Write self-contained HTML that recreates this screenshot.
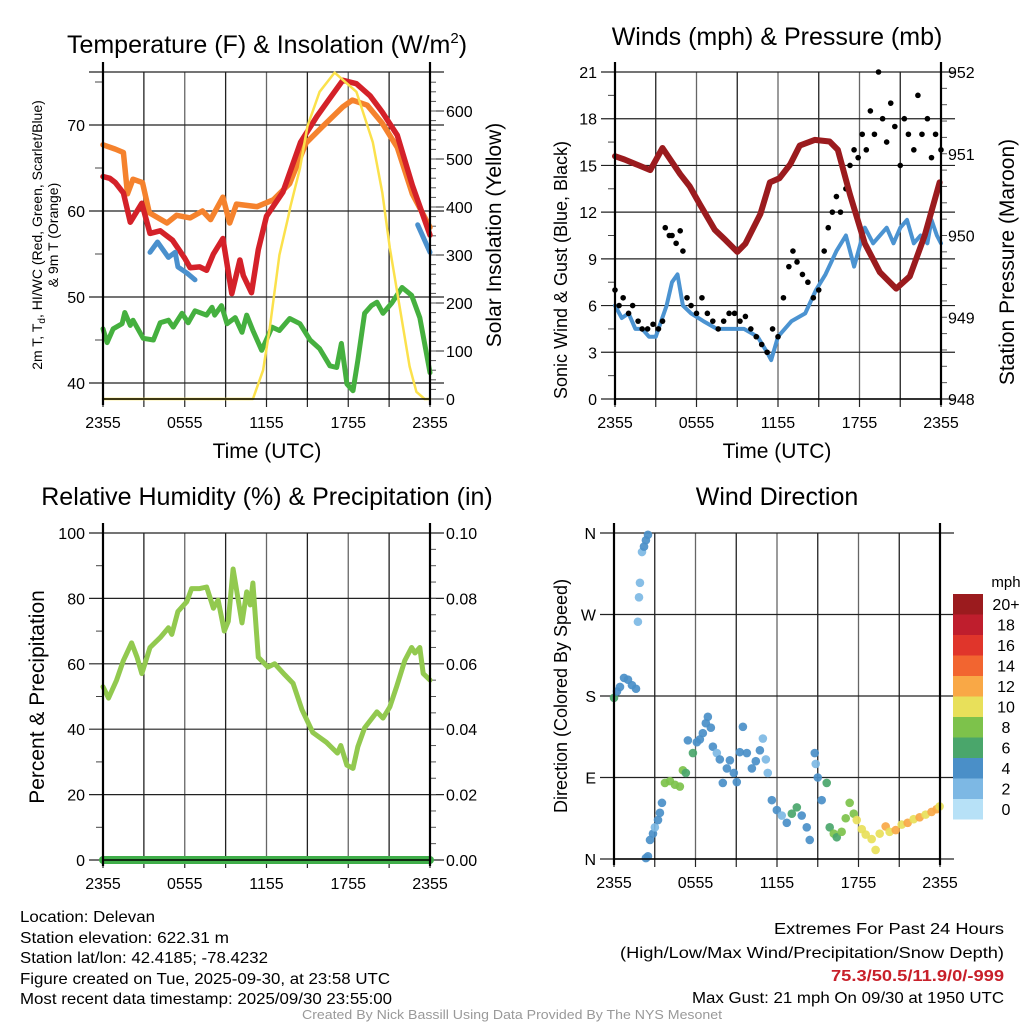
<!DOCTYPE html>
<html><head><meta charset="utf-8"><style>
html,body{margin:0;padding:0;background:#fff}
svg{display:block;font-family:"Liberation Sans",sans-serif}
</style></head><body>
<svg id="fig" xmlns="http://www.w3.org/2000/svg" width="1024" height="1024" viewBox="0 0 1024 1024">
<rect width="1024" height="1024" fill="#fff"/>
<g id="p1"></g>
<g id="p2"></g>
<g id="p3"></g>
<g id="p4"></g>
<text x="267" y="53" font-size="25" text-anchor="middle">Temperature (F) &amp; Insolation (W/m<tspan font-size="15" dy="-10">2</tspan><tspan dy="10">)</tspan></text>
<text x="777" y="45" font-size="25" text-anchor="middle">Winds (mph) &amp; Pressure (mb)</text>
<text x="267" y="505" font-size="25" text-anchor="middle">Relative Humidity (%) &amp; Precipitation (in)</text>
<text x="777" y="505" font-size="25" text-anchor="middle">Wind Direction</text>
<text x="267" y="458" font-size="21" text-anchor="middle">Time (UTC)</text>
<text x="777" y="458" font-size="21" text-anchor="middle">Time (UTC)</text>
<text transform="translate(42,235) rotate(-90)" font-size="14" text-anchor="middle">2m T, T<tspan font-size="10" dy="3">d</tspan><tspan dy="-3">, HI/WC (Red, Green, Scarlet/Blue)</tspan></text>
<text transform="translate(58,235) rotate(-90)" font-size="14" text-anchor="middle">&amp; 9m T (Orange)</text>
<text transform="translate(501,235) rotate(-90)" font-size="21" text-anchor="middle">Solar Insolation (Yellow)</text>
<text transform="translate(567,270) rotate(-90)" font-size="18" text-anchor="middle">Sonic Wind &amp; Gust (Blue, Black)</text>
<text transform="translate(1014,262) rotate(-90)" font-size="21" text-anchor="middle">Station Pressure (Maroon)</text>
<text transform="translate(44,697) rotate(-90)" font-size="21" text-anchor="middle">Percent &amp; Precipitation</text>
<text transform="translate(567,696) rotate(-90)" font-size="18" text-anchor="middle">Direction (Colored By Speed)</text>
<g font-size="16">
<text x="20" y="922" textLength="135" lengthAdjust="spacingAndGlyphs">Location: Delevan</text>
<text x="20" y="943" textLength="209" lengthAdjust="spacingAndGlyphs">Station elevation: 622.31 m</text>
<text x="20" y="963" textLength="248" lengthAdjust="spacingAndGlyphs">Station lat/lon: 42.4185; -78.4232</text>
<text x="20" y="984" textLength="370" lengthAdjust="spacingAndGlyphs">Figure created on Tue, 2025-09-30, at 23:58 UTC</text>
<text x="20" y="1004" textLength="372" lengthAdjust="spacingAndGlyphs">Most recent data timestamp: 2025/09/30 23:55:00</text>
</g>
<g font-size="16" text-anchor="end">
<text x="1004" y="934" textLength="230" lengthAdjust="spacingAndGlyphs">Extremes For Past 24 Hours</text>
<text x="1004" y="958" textLength="384" lengthAdjust="spacingAndGlyphs">(High/Low/Max Wind/Precipitation/Snow Depth)</text>
<text x="1004" y="981" fill="#c8202a" font-weight="bold" textLength="173" lengthAdjust="spacingAndGlyphs">75.3/50.5/11.9/0/-999</text>
<text x="1004" y="1003" textLength="312" lengthAdjust="spacingAndGlyphs">Max Gust: 21 mph On 09/30 at 1950 UTC</text>
</g>
<text x="512" y="1019" font-size="13" fill="#999" text-anchor="middle" textLength="420" lengthAdjust="spacingAndGlyphs">Created By Nick Bassill Using Data Provided By The NYS Mesonet</text>
</svg>
<script>
// ---- Temperature panel data ----
const redHours=[0,0.5,0.9,1.5,2,2.85,3.45,4.2,5.1,6,6.4,7.1,7.6,8.1,8.8,9.45,10.05,10.3,10.9,11.4,12,13.2,14.5,15.7,16.6,17.6,18.6,19.6,20.5,21.6,22.7,24];
const redTemp=[64,63.8,63.3,62.1,58.7,60.9,57.4,57.7,56.6,54.5,53.4,53.5,53.1,55,56.8,50.4,54.3,52.5,50.5,55.5,59.4,62.2,68,71,73,75.2,74.8,73.4,71.5,68.8,63,57.2];
const orangeHours=[0,0.9,1.5,1.8,2.2,2.9,3.4,4.7,5.4,6.4,7.3,7.9,8.8,9.3,9.8,11.3,12.5,13.7,14.9,16.1,17.6,18.3,19.4,20.5,21.6,22.7,24];
const orangeTemp=[67.7,67.2,66.8,62,63.7,63.3,59.8,58.6,59.5,59.2,60,59,61.6,58.6,60.8,60.5,61.3,63.2,67.9,69.8,72.1,72.9,72.3,70.2,67.4,62,58.1];
const greenHours=[0,0.3,0.75,1.4,1.6,2,2.2,2.95,3.7,4.2,4.8,5.15,5.8,6.25,6.75,7.6,8,8.2,8.7,9.1,9.7,10.2,10.55,11,11.65,12.4,12.95,13.7,14.45,15.2,15.9,16.65,17.15,17.5,17.9,18.35,18.7,19.2,19.7,20.1,20.55,21.2,21.95,22.65,23.25,23.6,24];
const greenTd=[46.3,44.7,46.3,46.9,48.2,46.7,47.3,45.2,45,47,47.3,46.5,48.1,47,48.4,47.9,48.8,47.9,49,46.9,47.6,45.9,47.9,46.1,43.8,46.5,46.1,47.5,46.9,45,44,42,41.8,44.6,39.9,39.1,42.6,48.1,49,49.4,48.1,49.3,51.1,50.2,47.6,44.6,41.2];
const blueHours1=[3.45,4,4.8,5.3,5.5,6.15,6.75];
const blueHIWC1=[55.2,56.4,54.6,55.2,53.5,52.8,52];
const blueHours2=[23.1,24];
const blueHIWC2=[58.4,55.2];
const solarHours=[0,11,11.75,12.25,12.95,13.6,13.75,14.45,15,15.9,17,18.6,19.8,20.5,21.05,21.8,22.5,23,23.6,24];
const solarWm2=[0,0,60,150,300,380,400,480,568,640,680,640,535,430,315,188,68,15,0,0];
const tempTicks=[40,50,60,70];
const solarTicks=[0,100,200,300,400,500,600];
const timeLabels=["2355","0555","1155","1755","2355"];
// ---- Winds panel data ----
const windHours=[0,0.5,1,1.5,2,2.5,3,3.4,3.8,4.2,4.6,5,5.6,6.5,7.5,8.5,9.5,10.5,11.2,11.5,12,13,14,14.8,15.5,16.3,17,17.6,18.4,19,19.5,20,20.5,21,21.5,22,22.5,23,23.3,23.7,24];
const windMph=[6,5.2,5.5,4.5,4.5,4,4,5,6,7.5,8,6,5.5,5,4.5,4.5,4.5,4,3,2.5,4,5,5.5,7,8,9.5,10.5,8.5,11,10,10.5,11,10,11,11.5,10,10.5,10,11.5,10.5,10];
const gustHours=[0,0.3,0.6,1,1.3,1.7,2,2.4,2.8,3.2,3.5,3.7,4,4.2,4.5,4.8,5,5.3,5.6,6,6.4,6.8,7.2,7.6,8,8.4,8.8,9.2,9.6,10,10.4,10.8,11.2,11.6,12,12.4,12.8,13.1,13.4,13.8,14.2,14.6,15,15.4,15.7,16,16.3,16.6,17,17.3,17.6,17.9,18.2,18.5,18.8,19.1,19.4,19.7,20,20.3,20.6,21,21.3,21.6,22,22.3,22.6,23,23.3,23.6,24];
const gustMph=[7,6,6.5,5.5,6,5,4.5,4.5,4.8,4.5,5,11,10.5,10.5,10,10.8,9.5,6.5,6,5.5,6.5,5.5,5,4.5,5,5.5,5.5,5,5.3,4.5,4,3.5,3,4.5,4,6.5,8.5,9.5,8.8,8,7.5,6.5,7,9.5,11,12,13,12,13.5,15,16,15.5,17,16,18.5,17,21,18,16.5,19,17.5,15,18,17,16,19.5,17,18,15.5,17,16];
const presHours=[0,0.7,2.6,3.5,4.8,5.5,6.25,7.35,8.1,9,9.6,10.7,11.4,12.1,12.9,13.6,14.7,15.8,16.4,17.3,18.4,19.5,20.7,21.7,22.8,23.9];
const presMb=[950.97,950.93,950.8,951.07,950.75,950.6,950.38,950.07,949.95,949.8,949.9,950.26,950.65,950.7,950.87,951.1,951.17,951.15,951.05,950.5,949.9,949.55,949.35,949.5,950.0,950.65];
const windTicks=[0,3,6,9,12,15,18,21];
const presTicks=[948,949,950,951,952];
// ---- Humidity panel data ----
const rhHours=[0,0.4,1,1.5,2.1,2.5,2.85,3.45,4.2,4.8,5.05,5.5,6.15,6.5,7.1,7.6,8.1,8.45,8.9,9.2,9.55,10.2,10.55,10.8,11,11.4,12.1,12.6,13.35,13.95,14.6,15.4,16.4,17.2,17.45,17.9,18.35,18.7,19.2,20.1,20.55,21.05,21.55,22.15,22.65,22.9,23.25,23.5,24];
const rhPct=[53,49.5,55,61,66.4,62,57,65,68,71,69,76,79,83,83,83.5,77,79.5,70,73,89,72.5,82,78,84.7,62,59,60,56.6,54,46,39,36,32.7,35,29,28,34.6,40.4,45.3,43.4,46.8,53,61,65,63.3,65,57,55];
const precipHours=[0,24];
const precipIn=[0,0];
const rhTicks=[0,20,40,60,80,100];
const precipTicks=["0.00","0.02","0.04","0.06","0.08","0.10"];
// ---- Wind direction panel data ----
const dirHours=[0,0.22,0.44,0.74,1.03,1.32,1.62,1.76,1.84,1.91,2.06,2.21,2.35,2.5,2.35,2.5,2.65,2.87,3.01,3.24,3.38,3.53,3.75,4.12,4.49,4.85,5.07,5.29,5.44,5.81,6.1,6.32,6.54,6.76,6.91,7.13,7.28,7.57,7.79,8.01,8.31,8.53,8.82,9.04,9.26,9.49,9.78,10.15,10.44,10.74,10.96,11.18,11.32,11.62,11.99,12.35,12.72,13.09,13.46,13.82,14.19,14.41,14.78,14.85,15,15.29,15.66,15.88,16.18,16.4,16.76,17.06,17.35,17.65,17.87,18.24,18.53,18.97,19.26,19.56,20,20.29,20.74,21.18,21.62,22.06,22.5,22.94,23.38,23.75,23.97];
const dirDeg=[178,185,190,200,198,192,188,262,289,305,339,345,352,358,1,3,21,28,35,43,51,62,84,86,82,80,98,95,131,117,129,132,139,150,157,145,124,117,110,84,100,109,95,85,118,146,117,100,108,120,133,110,95,65,54,48,40,50,57,48,35,21,117,105,90,65,84,35,28,24,30,45,62,50,43,33,27,22,10,28,36,30,32,38,40,44,46,49,52,55,58];
const dirSpeed=[6,4,4,4,4,4,4,2,2,2,2,4,4,4,4,4,4,4,2,4,4,4,8,8,8,8,8,6,4,6,4,4,4,4,4,4,4,2,4,4,4,4,4,4,4,4,4,4,4,4,2,2,2,4,4,2,4,6,6,4,4,4,4,2,4,4,6,6,8,6,8,8,8,8,10,10,10,10,10,10,12,10,12,10,12,10,12,10,12,12,10];
const dirTicks=["N","E","S","W","N"];
const barLabels=["20+","18","16","14","12","10","8","6","4","2","0"];
const barSpeeds=[20,18,16,14,12,10,8,6,4,2,0];

const NS='http://www.w3.org/2000/svg';
function mk(parent,tag,attrs){const e=document.createElementNS(NS,tag);for(const k in attrs)e.setAttribute(k,attrs[k]);parent.appendChild(e);return e;}
function speedColor(s){
  const c=['#b7e1f7','#7db8e4','#4a8fc8','#4aa66b','#7dc24b','#e8e05a','#f9a846','#f26530','#e0352b','#bf1e2d','#9b1b1e'];
  return c[Math.min(10,Math.floor(s/2))];
}
function linePath(g,hs,vs,xf,yf,color,w,name){
  let d='';for(let i=0;i<hs.length;i++)d+=(i?'L':'M')+xf(hs[i]).toFixed(1)+','+yf(vs[i]).toFixed(1);
  const p=mk(g,'path',{d:d,fill:'none',stroke:color,'stroke-width':w,'stroke-linejoin':'round','stroke-linecap':'round'});
  
  
  return p;
}
function frame(g,L,R,T,B,hLines){
  for(let h=3;h<24;h+=3){const x=L+(R-L)*h/24;
    const ln=mk(g,'line',{x1:x,x2:x,y1:T,y2:B,stroke:(h%6==0?'#666':'#222'),'stroke-width':1.3});
    
    }
  hLines.forEach(y=>{const ln=mk(g,'line',{x1:L-14,x2:R+14,y1:y,y2:y,stroke:'#222','stroke-width':1.2});
    
    });
  for(let h=0;h<=24;h+=3){const x=L+(R-L)*h/24;mk(g,'line',{x1:x,x2:x,y1:B,y2:B+8,stroke:'#222','stroke-width':1.2});}
  for(let i=0;i<5;i++){const x=L+(R-L)*i/4;
    const t=mk(g,'text',{x:x,y:B+29,'font-size':16,'text-anchor':'middle'});t.textContent=timeLabels[i];
    
    }
}
function axes(g,L,R,T,B){
  mk(g,'line',{x1:L,x2:L,y1:T-10,y2:B+6,stroke:'#000','stroke-width':2.2});
  mk(g,'line',{x1:R,x2:R,y1:T-10,y2:B+6,stroke:'#000','stroke-width':2.2});
  mk(g,'line',{x1:L,x2:R,y1:B,y2:B,stroke:'#000','stroke-width':1.5});
}
function tickText(g,x,y,txt,anchor,name){const t=mk(g,'text',{x:x,y:y+6,'font-size':16,'text-anchor':anchor});t.textContent=txt;
  
  }

// ---------- Panel 1 ----------
(function(){
  const g=document.getElementById('p1');const L=103,R=430,T=72,B=399;
  const x=h=>L+(R-L)*h/24;const y=v=>125+(70-v)*8.6;const ys=v=>399-v*0.48;
  frame(g,L,R,T,B,[T].concat(tempTicks.map(y)));
  tempTicks.forEach(v=>tickText(g,L-18,y(v),String(v),'end','temp-tick-label'));
  [45,55,65,75].forEach(v=>mk(g,'line',{x1:L-8,x2:L,y1:y(v),y2:y(v),stroke:'#444'}));
  solarTicks.forEach(v=>{tickText(g,R+16,ys(v),String(v),'start','solar-tick-label');mk(g,'line',{x1:R,x2:R+14,y1:ys(v),y2:ys(v),stroke:'#222'});});
  for(let v=20;v<680;v+=20)mk(g,'line',{x1:R,x2:R+6,y1:ys(v),y2:ys(v),stroke:'#555'});
  linePath(g,greenHours,greenTd,x,y,'#45b03f',5,'dewpoint-line');
  linePath(g,orangeHours,orangeTemp,x,y,'#f5822d',5.5,'9m-temperature-line');
  linePath(g,redHours,redTemp,x,y,'#d42129',5.5,'2m-temperature-line');
  linePath(g,blueHours1,blueHIWC1,x,y,'#4a90cd',5,'wind-chill-line');
  linePath(g,blueHours2,blueHIWC2,x,y,'#4a90cd',5,'wind-chill-line-end');
  linePath(g,solarHours,solarWm2,x,ys,'#fbe14c',2.5,'solar-insolation-line');
  axes(g,L,R,T,B);
})();
// ---------- Panel 2 ----------
(function(){
  const g=document.getElementById('p2');const L=615,R=941,T=72,B=399;
  const x=h=>L+(R-L)*h/24;const y=v=>B-(B-T)*v/21;const yp=v=>B-(B-T)*(v-948)/4;
  frame(g,L,R,T,B,windTicks.map(y));
  windTicks.forEach(v=>tickText(g,L-18,y(v),String(v),'end','wind-tick-label'));
  for(let v=1.5;v<21;v+=3)mk(g,'line',{x1:L-7,x2:L,y1:y(v),y2:y(v),stroke:'#444'});
  presTicks.forEach(v=>tickText(g,R+7,yp(v),String(v),'start','pressure-tick-label'));
  for(let v=948.2;v<952;v+=0.2)mk(g,'line',{x1:R,x2:R+6,y1:yp(v),y2:yp(v),stroke:'#555'});
  linePath(g,windHours,windMph,x,y,'#4b93d1',4,'sustained-wind-line');
  for(let i=0;i<gustHours.length;i++){const c=mk(g,'circle',{cx:x(gustHours[i]),cy:y(gustMph[i]),r:2.8,fill:'#000'});
    
    }
  linePath(g,presHours,presMb,x,yp,'#9b1b1e',6,'pressure-line');
  axes(g,L,R,T,B);
})();
// ---------- Panel 3 ----------
(function(){
  const g=document.getElementById('p3');const L=103,R=430,T=533,B=860;
  const x=h=>L+(R-L)*h/24;const y=v=>B-(B-T)*v/100;const yq=v=>B-(B-T)*v/0.1;
  frame(g,L,R,T,B,rhTicks.map(y));
  rhTicks.forEach((v,i)=>{tickText(g,L-18,y(v),String(v),'end','rh-tick-label');tickText(g,R+16,y(v),precipTicks[i],'start','precip-tick-label');});
  for(let v=10;v<100;v+=20)mk(g,'line',{x1:L-7,x2:L,y1:y(v),y2:y(v),stroke:'#444'});
  for(let v=5;v<100;v+=5)mk(g,'line',{x1:R,x2:R+6,y1:y(v),y2:y(v),stroke:'#555'});
  linePath(g,rhHours,rhPct,x,y,'#92c94f',5,'relative-humidity-line');
  linePath(g,precipHours,precipIn,x,yq,'#3fae49',8,'precipitation-line');
  axes(g,L,R,T,B);
})();
// ---------- Panel 4 ----------
(function(){
  const g=document.getElementById('p4');const L=614,R=940,T=533,B=859;
  const x=h=>L+(R-L)*h/24;const y=d=>B-(B-T)*d/360;
  frame(g,L,R,T,B,[0,90,180,270,360].map(y));
  dirTicks.forEach((t,i)=>tickText(g,L-18,y(i*90),t,'end','direction-tick-label'));
  for(let i=0;i<dirHours.length;i++){const c=mk(g,'circle',{cx:x(dirHours[i]),cy:y(dirDeg[i]),r:4.3,fill:speedColor(dirSpeed[i]),opacity:0.92});
    
    }
  axes(g,L,R,T,B);
  const cb=mk(g,'g',{});
  
  
  const t0=mk(cb,'text',{x:1006,y:587,'font-size':15,'text-anchor':'middle'});t0.textContent='mph';
  barSpeeds.forEach((s,i)=>{const yy=594+i*20.5;
    const r=mk(cb,'rect',{x:953,y:yy,width:30,height:20.5,fill:speedColor(s)});
    
    
    const t=mk(cb,'text',{x:1006,y:yy+16,'font-size':16,'text-anchor':'middle'});t.textContent=barLabels[i];
    
    });
})();
</script>
</body></html>
